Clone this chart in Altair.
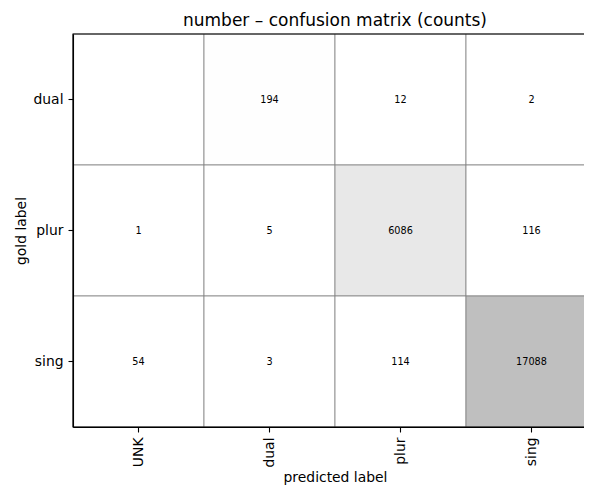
import altair as alt
import pandas as pd

gold_labels = ["dual", "plur", "sing"]
pred_labels = ["UNK", "dual", "plur", "sing"]
counts_dual = [0, 194, 12, 2]
counts_plur = [1, 5, 6086, 116]
counts_sing = [54, 3, 114, 17088]
count_rows = [counts_dual, counts_plur, counts_sing]

records = []
for g, row in zip(gold_labels, count_rows):
    for p, c in zip(pred_labels, row):
        records.append({"gold": g, "pred": p, "count": c})
df = pd.DataFrame(records)

W, H = 524, 393
FONT = "DejaVu Sans"

x_enc = alt.X("pred:N", sort=pred_labels,
              scale=alt.Scale(paddingInner=0, paddingOuter=0),
              axis=alt.Axis(title="predicted label", labelAngle=-90, titlePadding=4))
y_enc = alt.Y("gold:N", sort=gold_labels,
              scale=alt.Scale(paddingInner=0, paddingOuter=0),
              axis=alt.Axis(title="gold label", titlePadding=5))

cells = alt.Chart(df).mark_rect(stroke="#808080", strokeWidth=0.8).encode(
    x=x_enc, y=y_enc,
    color=alt.Color("count:Q",
                    scale=alt.Scale(domain=[0, 17088], range=["#ffffff", "#bfbfbf"]),
                    legend=None),
)

labels = alt.Chart(df).transform_filter("datum.count > 0").mark_text(
    font=FONT, fontSize=9.7, color="black", baseline="middle", align="center"
).encode(x=x_enc, y=y_enc, text=alt.Text("count:Q", format="d"))

frame = alt.Chart(pd.DataFrame({"k": [0]})).mark_rect(
    fill="transparent", stroke="black", strokeWidth=1.1
).encode(x=alt.value(0), x2=alt.value(W), y=alt.value(0), y2=alt.value(H))

chart = alt.layer(cells, labels, frame).properties(
    width=W, height=H,
    title="number – confusion matrix (counts)",
    autosize="none",
    padding={"left": 65, "top": 26, "right": -13, "bottom": 60},
).configure_view(stroke="transparent").configure_axis(
    labelFont=FONT, titleFont=FONT, labelFontSize=13.9, titleFontSize=13.9,
    titleFontWeight="normal", labelColor="black", titleColor="black",
    tickColor="black", domainColor="black", tickSize=5, tickWidth=1.1,
    domainWidth=1.1, labelPadding=5, grid=False,
).configure_title(
    font=FONT, fontSize=17, fontWeight="normal", color="black",
    anchor="middle", baseline="alphabetic", offset=3,
)

chart.save("out.html", embed_options={"renderer": "svg", "actions": False})
